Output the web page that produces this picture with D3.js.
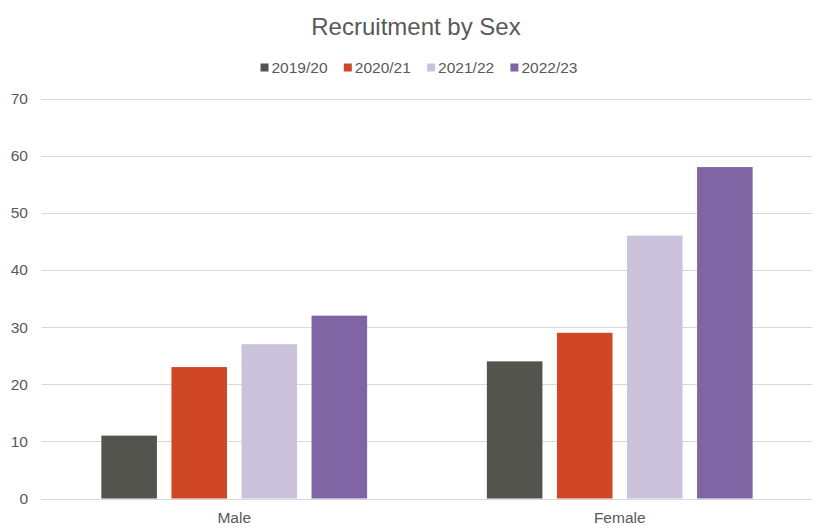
<!DOCTYPE html>
<html>
<head>
<meta charset="utf-8">
<script src="https://cdn.jsdelivr.net/npm/d3@7"></script>
<style>
  body { margin: 0; background: #fff; }
  text { font-family: "Liberation Sans", Arial, sans-serif; fill: #595959; }
</style>
</head>
<body>
<div class="container"></div>
<script>
let categories = ["Male", "Female"];
let seriesNames = ["2019/20", "2020/21", "2021/22", "2022/23"];
let male = [11, 23, 27, 32];
let female = [24, 29, 46, 58];
let colors = ["#52544d", "#d04727", "#cbc2dc", "#7f65a3"];
let yTicks = [0, 10, 20, 30, 40, 50, 60, 70];

let values = [male, female];

let width = 830, height = 532;
let margin = {top: 98.5, right: 17.5, bottom: 33.5, left: 41.5};

let svg = d3.select(".container").append("svg")
    .attr("width", width)
    .attr("height", height);

let x0 = d3.scaleBand()
    .domain(categories)
    .range([margin.left, width - margin.right])
    .paddingInner(0.273)
    .paddingOuter(0.1365);

let x1 = d3.scaleBand()
    .domain(seriesNames)
    .range([0, x0.bandwidth()])
    .padding(0.207)
    .paddingOuter(0.1035);

let y = d3.scaleLinear()
    .domain([0, 70])
    .range([height - margin.bottom, margin.top]);

// gridlines
svg.append("g")
  .selectAll("line")
  .data(yTicks)
  .enter().append("line")
    .attr("x1", margin.left)
    .attr("x2", width - margin.right)
    .attr("y1", d => Math.round(y(d)) + 0.5)
    .attr("y2", d => Math.round(y(d)) + 0.5)
    .style("stroke", "#d9d9d9")
    .style("stroke-width", 1);

// y tick labels
svg.append("g")
  .selectAll("text")
  .data(yTicks)
  .enter().append("text")
    .text(d => d)
    .attr("x", 28)
    .attr("y", d => y(d) + 5.5)
    .attr("text-anchor", "end")
    .style("font-size", "15.5px");

// bars
let groups = svg.append("g")
  .selectAll("g")
  .data(categories)
  .enter().append("g")
    .attr("transform", d => "translate(" + x0(d) + ",0)");

groups.selectAll("rect")
  .data((d, i) => seriesNames.map((s, j) => ({s: s, v: values[i][j], c: colors[j]})))
  .enter().append("rect")
    .attr("x", d => x1(d.s))
    .attr("width", x1.bandwidth())
    .attr("y", d => y(d.v))
    .attr("height", d => y(0) - y(d.v))
    .style("fill", d => d.c);

// category labels
svg.append("g")
  .selectAll("text")
  .data(categories)
  .enter().append("text")
    .text(d => d)
    .attr("x", d => x0(d) + x0.bandwidth() / 2)
    .attr("y", 523)
    .attr("text-anchor", "middle")
    .style("font-size", "15.5px");

// title
svg.append("text")
  .text("Recruitment by Sex")
  .attr("x", 416)
  .attr("y", 35)
  .attr("text-anchor", "middle")
  .style("font-size", "24px");

// legend
let legend = svg.append("g")
  .selectAll("g")
  .data(seriesNames)
  .enter().append("g")
    .attr("transform", (d, i) => "translate(" + (260.5 + i * 83.3) + ",0)");

legend.append("rect")
    .attr("x", 0)
    .attr("y", 63.5)
    .attr("width", 8)
    .attr("height", 8)
    .style("fill", (d, i) => colors[i]);

legend.append("text")
    .text(d => d)
    .attr("x", 11)
    .attr("y", 73)
    .style("font-size", "15.5px");
</script>
</body>
</html>
